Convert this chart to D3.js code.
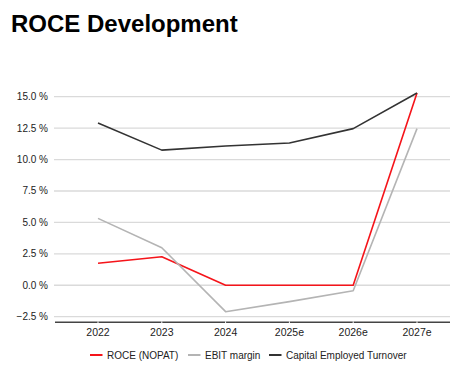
<!DOCTYPE html>
<html>
<head>
<meta charset="utf-8">
<script src="https://cdn.jsdelivr.net/npm/d3@7"></script>
<style>
  body { margin: 0; background: #fff; }
  svg { display: block; font-family: "Liberation Sans", Arial, sans-serif; }
</style>
</head>
<body>
<div id="stage"></div>
<script>
const years = ['2022', '2023', '2024', '2025e', '2026e', '2027e'];
const roce = [1.75, 2.27, 0, 0, 0, 15.3];
const ebitMargin = [5.32, 2.98, -2.1, -1.3, -0.43, 12.46];
const capTurnover = [12.9, 10.75, 11.08, 11.32, 12.46, 15.3];
const yTicks = [-2.5, 0, 2.5, 5, 7.5, 10, 12.5, 15];

const series = [
  {name: 'ROCE (NOPAT)', values: roce, color: '#f5141a'},
  {name: 'EBIT margin', values: ebitMargin, color: '#b4b4b4'},
  {name: 'Capital Employed Turnover', values: capTurnover, color: '#333333'}
];

const width = 450, height = 371;

const svg = d3.select('#stage').append('svg')
  .attr('width', width)
  .attr('height', height);

svg.append('text')
  .attr('x', 11)
  .attr('y', 32)
  .style('font-size', '24px')
  .style('font-weight', 'bold')
  .style('fill', '#000')
  .text('ROCE Development');

const x = d3.scalePoint()
  .domain(years)
  .range([98, 417]);

const y = d3.scaleLinear()
  .domain([-2.5, 15])
  .range([316.7, 96.7]);

// gridlines + y labels
const grid = svg.append('g');
yTicks.forEach((t) => {
  grid.append('line')
    .attr('x1', 54)
    .attr('x2', 450)
    .attr('y1', y(t))
    .attr('y2', y(t))
    .style('stroke', '#dadada')
    .style('stroke-width', 1.3);
  grid.append('text')
    .attr('x', 48)
    .attr('y', y(t))
    .attr('dy', '0.35em')
    .attr('text-anchor', 'end')
    .style('font-size', '10px')
    .style('fill', '#222')
    .text(d3.format('.1f')(t) + ' %');
});

// bottom axis line with small white breaks at categories
const axisY = y(-2.95);
svg.append('line')
  .attr('x1', 55)
  .attr('x2', 450)
  .attr('y1', axisY)
  .attr('y2', axisY)
  .style('stroke', '#444')
  .style('stroke-width', 1.5);

years.forEach((yr) => {
  svg.append('line')
    .attr('x1', x(yr))
    .attr('x2', x(yr))
    .attr('y1', axisY - 1)
    .attr('y2', axisY + 1)
    .style('stroke', '#fff')
    .style('stroke-width', 1);
  svg.append('text')
    .attr('x', x(yr))
    .attr('y', 336)
    .attr('text-anchor', 'middle')
    .style('font-size', '10.5px')
    .style('fill', '#222')
    .text(yr);
});

const line = d3.line()
  .x((d, i) => x(years[i]))
  .y((d) => y(d));

series.forEach((s) => {
  svg.append('path')
    .datum(s.values)
    .attr('d', line)
    .style('fill', 'none')
    .style('stroke', s.color)
    .style('stroke-width', 1.6)
    .style('stroke-linejoin', 'round');
});

// legend
const legendX = [90, 188, 269];
series.forEach((s, i) => {
  const g = svg.append('g').attr('transform', `translate(${legendX[i]},355)`);
  g.append('line')
    .attr('x1', 0)
    .attr('x2', 12.5)
    .style('stroke', s.color)
    .style('stroke-width', 2);
  g.append('text')
    .attr('x', 17)
    .attr('dy', '0.35em')
    .style('font-size', '10px')
    .style('fill', '#222')
    .text(s.name);
});
</script>
</body>
</html>
